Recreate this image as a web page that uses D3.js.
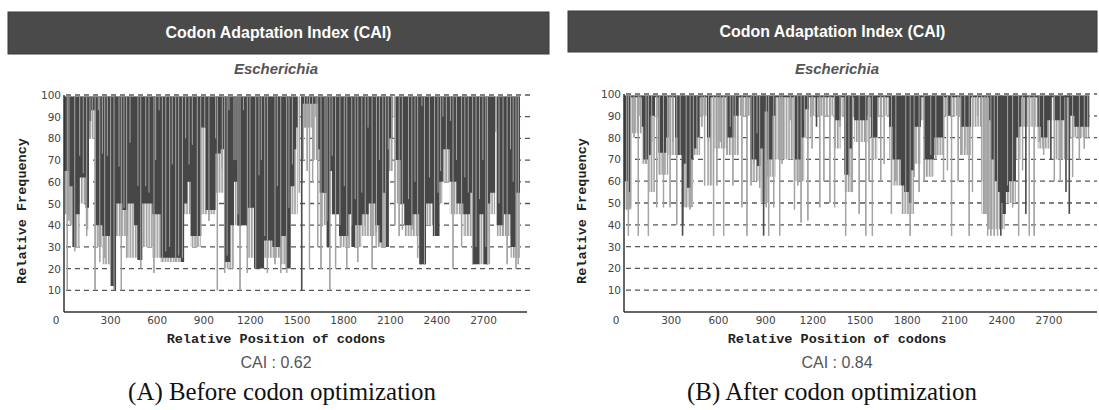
<!DOCTYPE html>
<html lang="en">
<head>
<meta charset="UTF-8">
<title>Codon Adaptation Index (CAI)</title>
<script src="https://cdn.jsdelivr.net/npm/d3@7"></script>
<style>
  body { margin: 0; background: #fff; }
</style>
</head>
<body>
<script>
let w = 1099;
let h = 410;

// shared labels
let headerTitle = 'Codon Adaptation Index (CAI)';
let organism = 'Escherichia';
let yTitle = 'Relative Frequency';
let xTitle = 'Relative Position of codons';
let yTicks = [10, 20, 30, 40, 50, 60, 70, 80, 90, 100];
let xTicks = [0, 300, 600, 900, 1200, 1500, 1800, 2100, 2400, 2700];
let caiLabels = ['CAI : 0.62', 'CAI : 0.84'];
let captions = ['(A) Before codon optimization', '(B) After codon optimization'];

// Panel A: [codon position, lowest relative frequency reached]
let darkA = [[0,65],[32,58],[54,30],[75,45],[101,62],[139,48],[161,88],[175,93],[204,40],[247,35],
  [300,12],[333,50],[376,47],[408,50],[451,40],[472,24],[504,50],[569,45],[622,25],[708,25],
  [751,23],[773,50],[794,60],[815,35],[880,85],[912,47],[976,73],[1009,75],[1030,23],[1070,40],
  [1094,60],[1115,40],[1180,48],[1223,20],[1288,33],[1341,30],[1395,35],[1427,20],[1459,58],[1483,75],
  [1495,85],[1504,100],[1526,60],[1535,96],[1635,75],[1646,55],[1690,30],[1711,65],[1725,45],[1770,35],
  [1830,45],[1852,30],[1874,40],[1917,45],[1961,50],[2004,40],[2030,32],[2048,55],[2070,30],[2091,80],
  [2113,100],[2135,70],[2167,50],[2190,40],[2243,45],[2287,22],[2330,50],[2374,35],[2417,60],[2439,75],
  [2483,60],[2526,50],[2570,45],[2613,55],[2630,22],[2674,45],[2700,22],[2730,50],[2743,55],[2775,100],
  [2785,40],[2830,45],[2874,30],[2909,55],[2935,55]];
let lightA = [[0,45],[32,40],[75,30],[101,50],[139,38],[161,80],[204,30],[247,22],[300,12],[333,35],
  [408,25],[504,30],[569,25],[622,23],[751,23],[773,45],[815,30],[880,45],[976,55],[1030,20],
  [1094,40],[1180,25],[1288,25],[1395,22],[1459,45],[1504,100],[1526,70],[1546,85],[1600,70],[1646,40],
  [1711,45],[1770,30],[1917,35],[2004,30],[2091,65],[2113,90],[2135,50],[2190,35],[2287,22],[2330,40],
  [2417,50],[2439,60],[2483,45],[2570,35],[2630,22],[2743,45],[2775,85],[2785,35],[2874,25],[2935,25]];
let spikesA = [[21,10],[32,42],[69,28],[101,72],[124,64],[146,35],[167,80],[182,93],[200,10],[221,93],
  [230,23],[247,73],[262,25],[279,72],[300,20],[322,10],[354,67],[369,10],[386,48],[403,25],
  [425,78],[476,58],[494,20],[526,58],[547,55],[579,18],[590,70],[612,93],[633,23],[655,28],
  [680,30],[697,68],[719,23],[738,26],[762,25],[783,80],[805,68],[826,77],[858,30],[880,35],
  [906,85],[933,42],[976,80],[987,10],[1019,66],[1034,18],[1050,26],[1062,93],[1094,70],[1107,70],
  [1120,45],[1133,10],[1155,93],[1180,18],[1197,48],[1234,20],[1255,63],[1270,70],[1292,35],[1309,18],
  [1358,22],[1373,58],[1395,18],[1433,18],[1448,48],[1470,68],[1515,55],[1548,85],[1565,65],[1580,20],
  [1600,60],[1622,90],[1633,30],[1654,20],[1680,55],[1693,42],[1711,10],[1726,72],[1748,20],[1776,40],
  [1804,58],[1820,20],[1852,40],[1874,52],[1891,23],[1917,55],[1939,40],[1957,85],[1983,20],[2011,37],
  [2030,70],[2052,30],[2070,55],[2087,75],[2109,65],[2130,40],[2157,35],[2178,38],[2217,52],[2239,38],
  [2259,60],[2276,25],[2304,95],[2320,22],[2352,62],[2385,35],[2407,55],[2424,65],[2439,90],[2461,60],
  [2487,88],[2504,20],[2526,70],[2559,30],[2580,62],[2602,55],[2630,22],[2652,30],[2674,52],[2696,70],
  [2715,30],[2726,22],[2778,83],[2800,50],[2826,35],[2852,22],[2874,75],[2891,60],[2909,20],[2924,22]];
let darkSpikesA = [[1530,10],[330,10],[2295,22]];

// Panel B
let darkB = [[0,60],[28,55],[40,98.5],[113,85],[123,70],[155,72],[170,90],[197,98.5],[219,73],[268,80],
  [282,98.5],[325,80],[340,72],[367,40],[378,68],[399,57],[425,70],[441,75],[460,80],[480,98.5],
  [527,80],[548,98.5],[654,80],[696,90],[728,98.5],[803,70],[845,67],[866,75],[891,92],[913,70],
  [943,90],[962,98.5],[1079,70],[1125,80],[1146,93],[1174,98.5],[1337,88],[1376,98.5],[1400,63],[1429,75],
  [1450,98.5],[1462,88],[1547,98.5],[1568,80],[1610,98.5],[1684,85],[1706,70],[1759,58],[1780,55],[1810,50],
  [1825,65],[1843,85],[1886,98.5],[1907,70],[1970,80],[2034,98.5],[2060,90],[2075,98.5],[2140,85],[2204,98.5],
  [2320,88],[2331,70],[2352,60],[2373,55],[2394,50],[2405,45],[2426,55],[2447,60],[2490,80],[2511,85],
  [2522,98.5],[2628,85],[2649,80],[2690,88],[2712,98.5],[2734,88],[2797,98.5],[2829,90],[2861,85],[2956,85]];
let lightB = [[0,47],[50,82],[113,68],[155,55],[197,90],[219,63],[282,72],[367,48],[440,72],[484,90],
  [527,58],[569,75],[654,72],[730,90],[803,60],[866,50],[913,62],[962,70],[1079,60],[1146,80],
  [1185,90],[1337,75],[1376,90],[1400,55],[1450,90],[1462,78],[1547,90],[1568,70],[1610,90],[1684,70],
  [1706,58],[1760,45],[1843,68],[1886,88],[1907,62],[1970,72],[2034,90],[2140,72],[2204,85],[2270,45],
  [2310,38],[2420,50],[2490,70],[2522,85],[2628,75],[2712,88],[2734,70],[2829,80],[2956,80]];
let spikesB = [[17,47],[28,35],[42,48],[64,80],[91,35],[102,90],[140,68],[155,35],[176,78],[208,48],
  [225,63],[251,48],[276,73],[293,48],[310,78],[335,40],[357,72],[395,48],[420,47],[441,72],
  [463,75],[495,85],[512,58],[537,78],[569,35],[590,58],[611,78],[633,35],[654,72],[675,85],
  [692,58],[707,80],[749,48],[781,35],[807,58],[824,68],[845,82],[862,57],[904,48],[919,35],
  [951,48],[989,35],[1004,68],[1057,88],[1083,47],[1104,58],[1125,41],[1146,88],[1168,42],[1195,75],
  [1244,48],[1270,60],[1308,50],[1338,48],[1372,85],[1408,35],[1429,62],[1451,55],[1494,45],[1536,35],
  [1557,60],[1578,35],[1631,60],[1653,68],[1699,45],[1727,60],[1790,55],[1818,35],[1843,62],[1875,55],
  [1907,60],[1949,72],[1981,70],[2030,60],[2055,65],[2081,35],[2123,60],[2140,72],[2165,75],[2193,35],
  [2214,55],[2246,90],[2272,60],[2293,45],[2310,35],[2331,35],[2352,35],[2373,35],[2437,58],[2469,48],
  [2507,35],[2532,65],[2575,35],[2606,35],[2638,78],[2666,72],[2734,60],[2772,60],[2850,62],[2893,70],
  [2924,75],[2946,85]];
let darkSpikesB = [[372,35],[887,35],[1223,85],[2394,35],[2553,45],[2712,70],[2808,55],[2829,45]];

let panels = [
  { header: [8, 12, 549, 54], x0: 64, x1: 527, xMax: 2980, yTop: 95, yBot: 312, gridEnd: 531,
    dark: darkA, light: lightA, spikes: spikesA, darkSpikes: darkSpikesA,
    cai: caiLabels[0], caption: captions[0], cx: 276, capX: 282 },
  { header: [568, 11, 1097, 52], x0: 624, x1: 1097, xMax: 3005, yTop: 94, yBot: 312, gridEnd: 1097,
    dark: darkB, light: lightB, spikes: spikesB, darkSpikes: darkSpikesB,
    cai: caiLabels[1], caption: captions[1], cx: 837, capX: 832 }
];

let svg = d3.select('body')
            .append('svg')
            .attr('width', w)
            .attr('height', h);

svg.append('rect').attr('width', w).attr('height', h).attr('fill', '#fff');

// striped fill for the sparse grey bars
let pat = svg.append('defs').append('pattern')
  .attr('id', 'stripes')
  .attr('patternUnits', 'userSpaceOnUse')
  .attr('width', 2.7).attr('height', 6);
pat.append('rect').attr('width', 2.7).attr('height', 6).attr('fill', '#f4f4f4');
pat.append('rect').attr('width', 1.5).attr('height', 6).attr('fill', '#9a9a9a');

// shrink/grow a text to a target width
function fit(sel, target) {
  let len = sel.node().getComputedTextLength();
  let fs = parseFloat(sel.attr('font-size'));
  sel.attr('font-size', fs * target / len);
}

panels.forEach(p => {
  let g = svg.append('g');
  let xScale = d3.scaleLinear().domain([0, p.xMax]).range([p.x0, p.x1]);
  let yScale = d3.scaleLinear().domain([0, 100]).range([p.yBot, p.yTop]);
  let hx = (p.header[0] + p.header[2]) / 2;

  // header bar
  g.append('rect')
    .attr('x', p.header[0]).attr('y', p.header[1])
    .attr('width', p.header[2] - p.header[0]).attr('height', p.header[3] - p.header[1])
    .attr('fill', '#4a4a4a').attr('stroke', '#3a3a3a');
  let ht = g.append('text')
    .text(headerTitle)
    .attr('x', hx).attr('y', (p.header[1] + p.header[3]) / 2 + 5)
    .attr('text-anchor', 'middle')
    .attr('font-family', 'Liberation Sans, Arial, sans-serif')
    .attr('font-weight', 'bold').attr('font-size', 15)
    .attr('fill', '#fff');
  fit(ht, 226);

  let ot = g.append('text')
    .text(organism)
    .attr('x', p.cx).attr('y', 74)
    .attr('text-anchor', 'middle')
    .attr('font-family', 'Liberation Sans, Arial, sans-serif')
    .attr('font-style', 'italic').attr('font-weight', 'bold')
    .attr('font-size', 14).attr('fill', '#555');
  fit(ot, 84);

  // dashed grid
  g.selectAll('line.grid')
    .data(yTicks)
    .enter()
    .append('line')
    .attr('x1', p.x0 + 2).attr('x2', p.gridEnd)
    .attr('y1', d => yScale(d)).attr('y2', d => yScale(d))
    .attr('stroke', '#555').attr('stroke-width', 1.3)
    .attr('stroke-dasharray', '5,4');

  // bars hanging from the 100 line
  let topY = yScale(99.3);
  let area = d3.area()
    .x(d => xScale(d[0]))
    .y0(topY)
    .y1(d => Math.max(topY, yScale(d[1])))
    .curve(d3.curveStepAfter);

  g.append('path').datum(p.light).attr('d', area).attr('fill', 'url(#stripes)');

  g.selectAll('line.spike')
    .data(p.spikes)
    .enter()
    .append('line')
    .attr('x1', d => xScale(d[0])).attr('x2', d => xScale(d[0]))
    .attr('y1', topY).attr('y2', d => yScale(d[1]))
    .attr('stroke', '#9d9d9d').attr('stroke-width', 1.4);

  g.append('path').datum(p.dark).attr('d', area).attr('fill', '#464646');

  g.selectAll('line.dspike')
    .data(p.darkSpikes)
    .enter()
    .append('line')
    .attr('x1', d => xScale(d[0])).attr('x2', d => xScale(d[0]))
    .attr('y1', topY).attr('y2', d => yScale(d[1]))
    .attr('stroke', '#4a4a4a').attr('stroke-width', 1.6);

  // light lines cut through the dark blocks
  g.selectAll('line.over')
    .data(p.spikes)
    .enter()
    .append('line')
    .attr('x1', d => xScale(d[0])).attr('x2', d => xScale(d[0]))
    .attr('y1', topY).attr('y2', d => yScale(d[1]))
    .attr('stroke', '#a5a5a5').attr('stroke-width', 1);

  // axes
  g.append('line')
    .attr('x1', p.x0).attr('x2', p.x0).attr('y1', p.yTop).attr('y2', p.yBot)
    .attr('stroke', '#333').attr('stroke-width', 1.5);
  g.append('line')
    .attr('x1', p.x0).attr('x2', p.x1).attr('y1', p.yBot).attr('y2', p.yBot)
    .attr('stroke', '#333').attr('stroke-width', 1.5);

  g.selectAll('text.ytick')
    .data(yTicks)
    .enter()
    .append('text')
    .text(d => d)
    .attr('x', p.x0 - 3).attr('y', d => yScale(d) + 4)
    .attr('text-anchor', 'end')
    .attr('font-family', 'DejaVu Sans, Verdana, sans-serif')
    .attr('font-size', 10.5).attr('fill', '#444');

  g.selectAll('text.xtick')
    .data(xTicks)
    .enter()
    .append('text')
    .text(d => d)
    .attr('x', d => d === 0 ? xScale(d) - 8 : xScale(d))
    .attr('y', p.yBot + 12)
    .attr('text-anchor', 'middle')
    .attr('font-family', 'DejaVu Sans, Verdana, sans-serif')
    .attr('font-size', 10.5).attr('fill', '#444');

  g.append('text')
    .text(xTitle)
    .attr('x', p.cx).attr('y', 343)
    .attr('text-anchor', 'middle')
    .attr('font-family', 'Liberation Mono, monospace')
    .attr('font-weight', 'bold').attr('font-size', 13.5).attr('fill', '#222');

  g.append('text')
    .text(yTitle)
    .attr('transform', `translate(${p.x0 - 38},211) rotate(-90)`)
    .attr('text-anchor', 'middle')
    .attr('font-family', 'Liberation Mono, monospace')
    .attr('font-weight', 'bold').attr('font-size', 13.5).attr('fill', '#222');

  g.append('text')
    .text(p.cai)
    .attr('x', p.cx).attr('y', 368)
    .attr('text-anchor', 'middle')
    .attr('font-family', 'Liberation Sans, Arial, sans-serif')
    .attr('font-size', 16).attr('fill', '#555');

  let cap = g.append('text')
    .text(p.caption)
    .attr('x', p.capX).attr('y', 400)
    .attr('text-anchor', 'middle')
    .attr('font-family', 'Liberation Serif, Times New Roman, serif')
    .attr('font-size', 21).attr('fill', '#111');
  fit(cap, p === panels[0] ? 308 : 290);
});
</script>
</body>
</html>
